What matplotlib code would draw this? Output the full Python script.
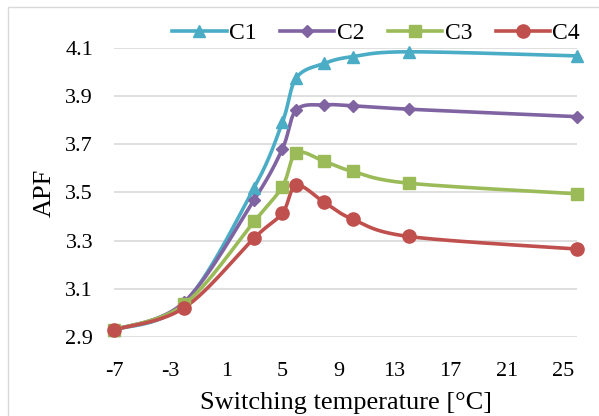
import numpy as np
import matplotlib
matplotlib.use("Agg")
import matplotlib.pyplot as plt
from matplotlib.patches import Rectangle

# ---- data ----
switch_temp = [-7, -2, 3, 5, 6, 8, 10, 14, 26]
c1 = [2.93, 3.04, 3.52, 3.79, 3.975, 4.035, 4.063, 4.083, 4.066]
c2 = [2.93, 3.045, 3.47, 3.68, 3.842, 3.863, 3.859, 3.845, 3.814]
c3 = [2.93, 3.035, 3.38, 3.524, 3.663, 3.628, 3.587, 3.538, 3.494]
c4 = [2.93, 3.021, 3.311, 3.414, 3.529, 3.458, 3.389, 3.317, 3.265]
series_names = ["C1", "C2", "C3", "C4"]
x_ticks = [-7, -3, 1, 5, 9, 13, 17, 21, 25]
y_ticks = [2.9, 3.1, 3.3, 3.5, 3.7, 3.9, 4.1]

colors = ["#4BACC6", "#8064A2", "#9BBB59", "#C0504D"]
markers = ["^", "D", "s", "o"]
msizes = [9, 6.5, 8.5, 9.5]

plt.rcParams['font.family'] = ['Liberation Serif', 'DejaVu Serif']
plt.rcParams['axes.unicode_minus'] = False


def smooth(x, y, n=30):
    """Catmull-Rom style smoothing (like Excel's smoothed line) for drawing only."""
    x = np.asarray(x, float)
    y = np.asarray(y, float)
    px = np.concatenate([[x[0]], x, [x[-1]]])
    py = np.concatenate([[y[0]], y, [y[-1]]])
    xs, ys = [], []
    for i in range(1, len(px) - 2):
        p0 = np.array([px[i], py[i]])
        p1 = np.array([px[i + 1], py[i + 1]])
        pm = np.array([px[i - 1], py[i - 1]])
        pp = np.array([px[i + 2], py[i + 2]])
        c1_ = p0 + (p1 - pm) / 6.0
        c2_ = p1 - (pp - p0) / 6.0
        t = np.linspace(0, 1, n)[:, None]
        b = ((1 - t) ** 3) * p0 + 3 * ((1 - t) ** 2) * t * c1_ + 3 * (1 - t) * t ** 2 * c2_ + t ** 3 * p1
        xs.extend(b[:, 0])
        ys.extend(b[:, 1])
    return xs, ys


fig = plt.figure(figsize=(5.99, 4.16), dpi=100)
# chart frame (light gray), right/bottom outside the image
fig.patches.append(Rectangle((8 / 599, -0.05), 1.2, 1 - 7 / 416 + 0.05,
                             transform=fig.transFigure, fill=False,
                             edgecolor="#D9D9D9", linewidth=1.0))

ax = fig.add_axes([114 / 599, 1 - 337 / 416, (577 - 114) / 599, (337 - 47.7) / 416])
ax.set_xlim(-7, 26)
ax.set_ylim(2.9, 4.1)

for s, ys_, col, mk, ms in zip(series_names, [c1, c2, c3, c4], colors, markers, msizes):
    sx, sy = smooth(switch_temp, ys_)
    ax.plot(sx, sy, color=col, lw=2.6, zorder=3, clip_on=False, solid_capstyle="round")
    ax.plot(switch_temp, ys_, linestyle="none", marker=mk, markersize=ms, color=col,
            markeredgecolor=col, zorder=4, clip_on=False)
    ax.plot([], [], color=col, lw=2.6, marker=mk, markersize=ms, label=s)

ax.set_xticks(x_ticks)
ax.set_yticks(y_ticks)
ax.set_yticklabels([f"{v:.1f}" for v in y_ticks])
ax.grid(axis="y", color="#D9D9D9", lw=1.2)
ax.set_axisbelow(True)
for sp in ax.spines.values():
    sp.set_visible(False)
ax.tick_params(length=0, labelsize=16, colors="black")
ax.tick_params(axis="x", pad=18)
ax.tick_params(axis="y", pad=15)

ax.set_xlabel("Switching temperature [°C]", fontsize=19, labelpad=8)
ax.set_ylabel("APF", fontsize=19, labelpad=7)

leg = fig.legend(loc="center right", bbox_to_anchor=(580 / 599, 1 - 33 / 416), ncol=4, frameon=False,
                 fontsize=17, handlelength=2.3, columnspacing=1.0, handletextpad=0.1,
                 borderaxespad=0, borderpad=0)

fig.savefig("out.png", dpi=100)
